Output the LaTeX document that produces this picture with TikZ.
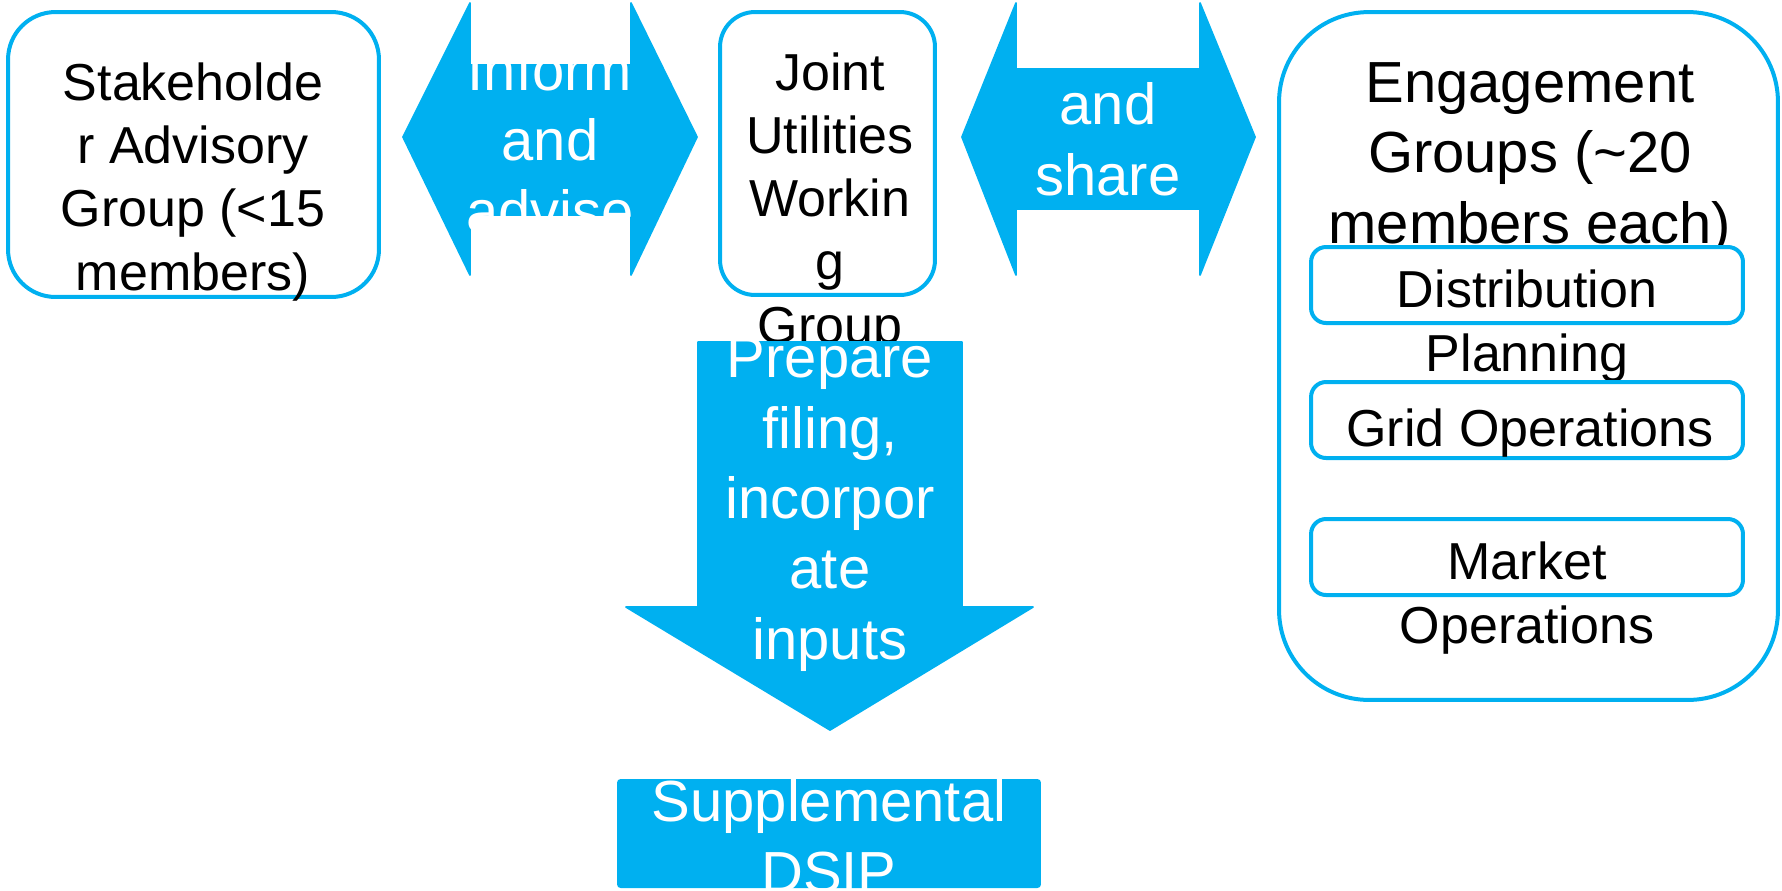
\documentclass[tikz,border=0pt]{standalone}
\usepackage{fontspec}
\setmainfont{Liberation Sans}
\usetikzlibrary{positioning}
\definecolor{dsipBlue}{HTML}{00B0F0}
\definecolor{dsipInk}{HTML}{000000}

\begin{document}
\begin{tikzpicture}[x=0.02cm,y=-0.02cm,text=dsipInk,
  groupbox/.style={draw=dsipBlue,line width=0.08cm,fill=white,inner sep=0pt},
  subgroupbox/.style={groupbox,rounded corners=0.3cm,minimum width=8.64cm,minimum height=1.52cm},
  boxlabel/.style={anchor=base,align=center,inner sep=0pt,
    font=\fontsize{29.6}{36}\selectfont},
  biglabel/.style={boxlabel,font=\fontsize{33}{40}\selectfont},
  arrowlabel/.style={biglabel,text=white},
  blockarrow/.style={fill=dsipBlue,draw=dsipBlue,line width=1pt,line join=round}]
  \path[use as bounding box] (0,0) rectangle (1782,890);

  % Stakeholder group on the left (labels sit on their last baseline)
  \node[groupbox,rounded corners=0.95cm,minimum width=7.42cm,minimum height=5.7cm]
    (sag) at (193.5,154.5) {};
  \node[boxlabel] (sagtext) at (193,290) {Stakeholde\\r Advisory\\Group (<15\\members)};

  \draw[blockarrow] (403,137) -- (470,3) -- (470,65) -- (631,65) -- (631,3) -- (697,137)
    -- (631,275) -- (631,215) -- (470,215) -- (470,275) -- cycle;
  \node[arrowlabel] (informtext) at (550,231) {Inform\\and\\advise};

  % Joint utilities in the middle
  \node[groupbox,rounded corners=0.7cm,minimum width=4.3cm,minimum height=5.66cm]
    (jwg) at (827.5,153.5) {};
  \node[boxlabel] (jwgtext) at (830,343) {Joint\\Utilities\\Workin\\g\\Group};

  \draw[blockarrow] (962,137) -- (1016,3) -- (1016,69) -- (1200,69) -- (1200,3) -- (1255,137)
    -- (1200,275) -- (1200,209) -- (1016,209) -- (1016,275) -- cycle;
  \node[arrowlabel] (sharetext) at (1108,195) {and\\share};

  % Engagement groups on the right
  \node[groupbox,rounded corners=1.8cm,minimum width=9.98cm,minimum height=13.76cm]
    (eng) at (1528.5,356) {};
  \node[biglabel] (engtext) at (1530,243) {Engagement\\Groups (\textasciitilde20\\members each)};
  \node[subgroupbox] (distplan) at (1527,285) {};
  \node[boxlabel] (distplantext) at (1527,371) {Distribution\\Planning};
  \node[subgroupbox] (gridops) at (1527,420) {};
  \node[boxlabel] (gridopstext) at (1530,446) {Grid Operations};
  \node[subgroupbox] (mktops) at (1527,557) {};
  \node[boxlabel] (mktopstext) at (1527,643) {Market\\Operations};

  % Filing arrow and result
  \draw[blockarrow] (698,342) -- (962,342) -- (962,607) -- (1033,607) -- (830,730)
    -- (626,607) -- (698,607) -- cycle;
  \node[arrowlabel] (preparetext) at (830,659) {Prepare\\filing,\\incorpor\\ate\\inputs};

  \node[fill=dsipBlue,rounded corners=2pt,inner sep=0pt,minimum width=8.48cm,minimum height=2.18cm]
    (dsip) at (829,833.5) {};
  \node[arrowlabel] (dsiptext) at (829,892) {Supplemental\\DSIP};
\end{tikzpicture}
\end{document}
